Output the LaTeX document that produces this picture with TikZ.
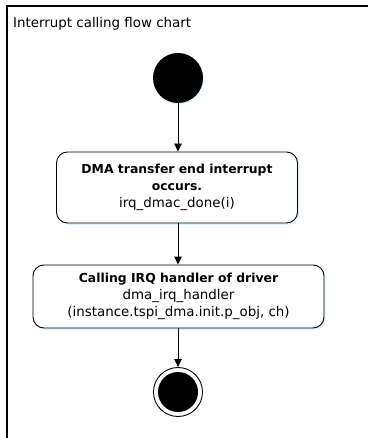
\documentclass[tikz,border=0pt]{standalone}
\usepackage{fontspec}
\setmainfont{DejaVu Sans}
\usetikzlibrary{arrows.meta,shadows}
\newcommand{\bl}[1]{{\fontsize{12.4}{17}\selectfont\bfseries #1}}
\begin{document}
\begin{tikzpicture}[x=1pt,y=-1pt,
  stepbox/.style={draw,line width=0.9pt,rounded corners=11pt,fill=white,
    drop shadow={shadow xshift=1.5pt,shadow yshift=-1.8pt,fill=blue!25!cyan!15,opacity=1},
    align=center,font=\fontsize{13.4}{17}\selectfont,inner sep=0pt},
  flow/.style={line width=0.9pt,-{Triangle[length=8pt,width=7.5pt]}},
  startdot/.style={circle,fill=black,minimum size=50pt,inner sep=0pt,
    drop shadow={shadow xshift=1pt,shadow yshift=-1.5pt,fill=blue!25!cyan!15,opacity=1}},
  enddot/.style={circle,draw,line width=0.9pt,fill=white,minimum size=49pt,inner sep=0pt,
    path picture={\fill[black] (path picture bounding box.center) circle (20pt);}}
]
\useasboundingbox (0,0) rectangle (368,438);
\fill[white] (0,0) rectangle (368,438);
\draw[line width=1.6pt] (7,438) -- (7,6) -- (368,6);
\node[anchor=base west,font=\fontsize{13.4}{16}\selectfont,inner sep=0pt] (title) at (13,28) {Interrupt calling flow chart};
\node[startdot] (start) at (178,78) {};
\node[stepbox,minimum width=241pt,minimum height=71pt] (b1) at (177,187.5)
  {\bl{DMA transfer end interrupt}\\\bl{occurs.}\\irq\_dmac\_done(i)};
\node[stepbox,minimum width=291pt,minimum height=63pt] (b2) at (178.5,296.5)
  {\bl{Calling IRQ handler of driver}\\dma\_irq\_handler\\(instance.tspi\_dma.init.p\_obj, ch)};
\node[enddot] (end) at (178,392) {};
\draw[flow] (start) -- (start |- b1.north);
\draw[flow] (b1.south -| start) -- (start |- b2.north);
\draw[flow] (b2.south -| start) -- (end);
\end{tikzpicture}
\end{document}
